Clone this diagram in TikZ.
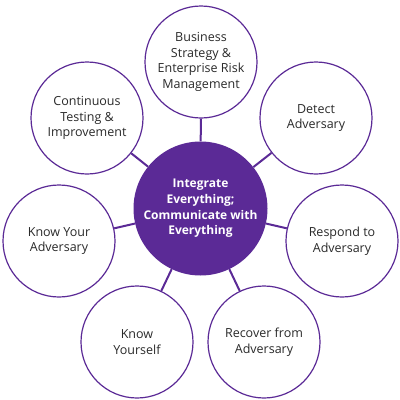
\documentclass[tikz,border=0pt]{standalone}
\usepackage{fontspec}
\setmainfont{Open Sans}
\definecolor{vio}{HTML}{5B2A96}
\definecolor{txt}{HTML}{2A2A2A}
\begin{document}
\begin{tikzpicture}[x=1pt,y=-1pt,
  outer/.style={circle,draw=vio,line width=1.2pt,fill=white,minimum size=112pt,inner sep=0pt,align=center,text=txt,font=\fontsize{12.5}{15.7}\selectfont},
  hub/.style={circle,fill=vio,minimum size=134pt,inner sep=0pt,align=center,text=white,font=\bfseries\fontsize{12}{15.7}\selectfont},
  link/.style={draw=vio,line width=2pt}]
\useasboundingbox (0,0) rectangle (400,400);
\node[hub] (c) at (200.5,208.5) {Integrate\\Everything;\\Communicate with\\Everything};
\node[outer] (b) at (201,62) {Business\\Strategy \&\\Enterprise Risk\\Management};
\node[outer] (d) at (316,118) {Detect\\Adversary};
\node[outer] (r) at (342,241) {Respond to\\Adversary};
\node[outer] (rc) at (264,342) {Recover from\\Adversary};
\node[outer] (ky) at (137,342) {Know\\Yourself};
\node[outer] (ka) at (59,241) {Know Your\\Adversary};
\node[outer] (ct) at (87,118) {Continuous\\Testing \&\\Improvement};
\foreach \n in {b,d,r,rc,ky,ka,ct} \draw[link] (c) -- (\n);
\end{tikzpicture}
\end{document}
